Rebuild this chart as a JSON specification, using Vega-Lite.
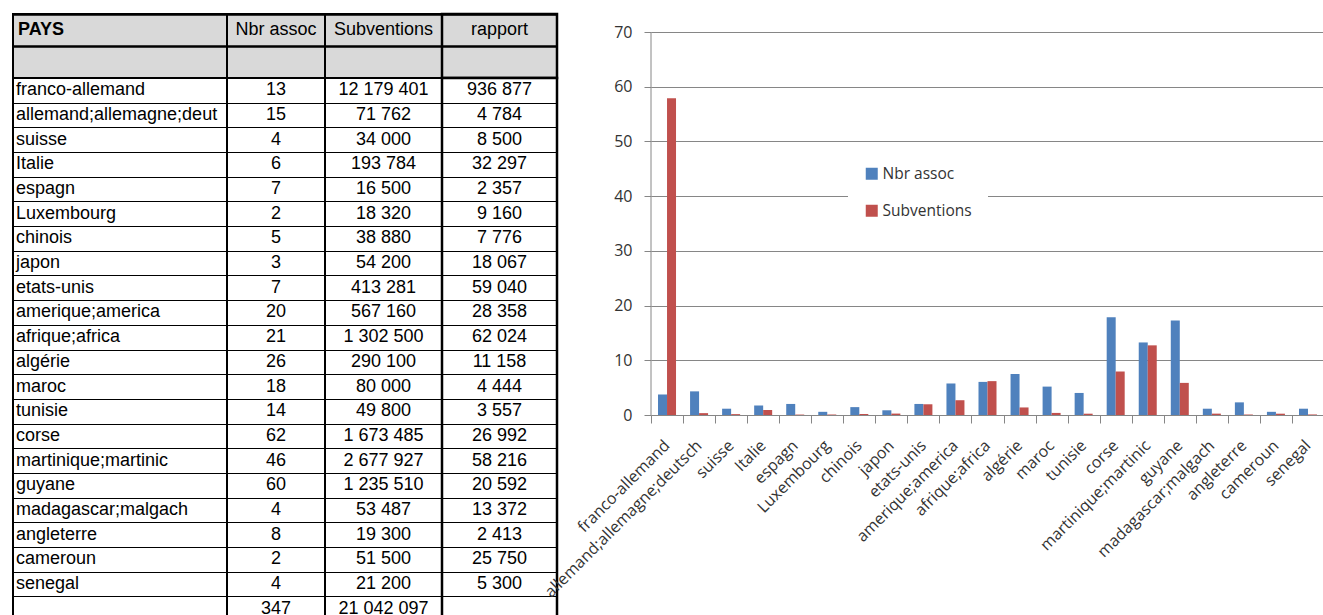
{
  "$schema": "https://vega.github.io/schema/vega-lite/v6.json",
  "padding": {"left": 12, "top": 12, "right": 0, "bottom": 0},
  "background": "white",
  "config": {
    "view": {"stroke": null},
    "font": "Open Sans",
    "locale": {"number": {"decimal": ",", "thousands": " ", "grouping": [3], "currency": ["", " €"]}}
  },
  "datasets": {
    "table": [
      {"row": 1, "pays": "franco-allemand", "nbr": 13, "sub": 12179401, "rapport": 936877},
      {"row": 2, "pays": "allemand;allemagne;deutsch", "nbr": 15, "sub": 71762, "rapport": 4784},
      {"row": 3, "pays": "suisse", "nbr": 4, "sub": 34000, "rapport": 8500},
      {"row": 4, "pays": "Italie", "nbr": 6, "sub": 193784, "rapport": 32297},
      {"row": 5, "pays": "espagn", "nbr": 7, "sub": 16500, "rapport": 2357},
      {"row": 6, "pays": "Luxembourg", "nbr": 2, "sub": 18320, "rapport": 9160},
      {"row": 7, "pays": "chinois", "nbr": 5, "sub": 38880, "rapport": 7776},
      {"row": 8, "pays": "japon", "nbr": 3, "sub": 54200, "rapport": 18067},
      {"row": 9, "pays": "etats-unis", "nbr": 7, "sub": 413281, "rapport": 59040},
      {"row": 10, "pays": "amerique;america", "nbr": 20, "sub": 567160, "rapport": 28358},
      {"row": 11, "pays": "afrique;africa", "nbr": 21, "sub": 1302500, "rapport": 62024},
      {"row": 12, "pays": "algérie", "nbr": 26, "sub": 290100, "rapport": 11158},
      {"row": 13, "pays": "maroc", "nbr": 18, "sub": 80000, "rapport": 4444},
      {"row": 14, "pays": "tunisie", "nbr": 14, "sub": 49800, "rapport": 3557},
      {"row": 15, "pays": "corse", "nbr": 62, "sub": 1673485, "rapport": 26992},
      {"row": 16, "pays": "martinique;martinic", "nbr": 46, "sub": 2677927, "rapport": 58216},
      {"row": 17, "pays": "guyane", "nbr": 60, "sub": 1235510, "rapport": 20592},
      {"row": 18, "pays": "madagascar;malgach", "nbr": 4, "sub": 53487, "rapport": 13372},
      {"row": 19, "pays": "angleterre", "nbr": 8, "sub": 19300, "rapport": 2413},
      {"row": 20, "pays": "cameroun", "nbr": 2, "sub": 51500, "rapport": 25750},
      {"row": 21, "pays": "senegal", "nbr": 4, "sub": 21200, "rapport": 5300},
      {"row": 22, "pays": "", "nbr": 347, "sub": 21042097, "rapport": null}
    ],
    "header": [
      {"hr": 1, "pays": "PAYS", "nbr": "Nbr assoc", "sub": "Subventions", "rapport": "rapport"}
    ],
    "pct": [
      {"pays": "franco-allemand", "Nbr assoc": 3.75, "Subventions": 57.88},
      {"pays": "allemand;allemagne;deutsch", "Nbr assoc": 4.32, "Subventions": 0.34},
      {"pays": "suisse", "Nbr assoc": 1.15, "Subventions": 0.16},
      {"pays": "Italie", "Nbr assoc": 1.73, "Subventions": 0.92},
      {"pays": "espagn", "Nbr assoc": 2.02, "Subventions": 0.08},
      {"pays": "Luxembourg", "Nbr assoc": 0.58, "Subventions": 0.09},
      {"pays": "chinois", "Nbr assoc": 1.44, "Subventions": 0.18},
      {"pays": "japon", "Nbr assoc": 0.86, "Subventions": 0.26},
      {"pays": "etats-unis", "Nbr assoc": 2.02, "Subventions": 1.96},
      {"pays": "amerique;america", "Nbr assoc": 5.76, "Subventions": 2.70},
      {"pays": "afrique;africa", "Nbr assoc": 6.05, "Subventions": 6.19},
      {"pays": "algérie", "Nbr assoc": 7.49, "Subventions": 1.38},
      {"pays": "maroc", "Nbr assoc": 5.19, "Subventions": 0.38},
      {"pays": "tunisie", "Nbr assoc": 4.03, "Subventions": 0.24},
      {"pays": "corse", "Nbr assoc": 17.87, "Subventions": 7.95},
      {"pays": "martinique;martinic", "Nbr assoc": 13.26, "Subventions": 12.73},
      {"pays": "guyane", "Nbr assoc": 17.29, "Subventions": 5.87},
      {"pays": "madagascar;malgach", "Nbr assoc": 1.15, "Subventions": 0.25},
      {"pays": "angleterre", "Nbr assoc": 2.31, "Subventions": 0.09},
      {"pays": "cameroun", "Nbr assoc": 0.58, "Subventions": 0.24},
      {"pays": "senegal", "Nbr assoc": 1.15, "Subventions": 0.10}
    ]
  },
  "spacing": -18,
  "resolve": {"legend": {"color": "independent"}},
  "hconcat": [
    {
      "columns": 4,
      "spacing": 0,
      "bounds": "flush",
      "concat": [
        {
          "width": 214, "height": 64,
          "view": {"fill": "#D9D9D9", "stroke": "black", "strokeWidth": 2},
          "data": {"name": "header"},
          "mark": {"type": "text", "font": "Liberation Sans", "fontSize": 18, "fontWeight": "bold", "align": "left", "dx": 5, "color": "black"},
          "encoding": {
            "y": {"field": "hr", "type": "ordinal", "scale": {"domain": [1, 2], "paddingInner": 0, "paddingOuter": 0}, "axis": {"grid": true, "tickBand": "extent", "gridColor": "black", "gridWidth": 2.5, "labels": false, "ticks": false, "domain": false, "title": null}},
            "x": {"datum": "c", "type": "nominal", "bandPosition": 0, "scale": {"type": "band", "paddingInner": 0, "paddingOuter": 0}, "axis": null},
            "text": {"field": "pays", "type": "nominal"}
          }
        },
        {
          "width": 98, "height": 64,
          "view": {"fill": "#D9D9D9", "stroke": "black", "strokeWidth": 2},
          "data": {"name": "header"},
          "mark": {"type": "text", "font": "Liberation Sans", "fontSize": 18, "color": "black"},
          "encoding": {
            "y": {"field": "hr", "type": "ordinal", "scale": {"domain": [1, 2], "paddingInner": 0, "paddingOuter": 0}, "axis": {"grid": true, "tickBand": "extent", "gridColor": "black", "gridWidth": 2.5, "labels": false, "ticks": false, "domain": false, "title": null}},
            "text": {"field": "nbr", "type": "nominal"}
          }
        },
        {
          "width": 117, "height": 64,
          "view": {"fill": "#D9D9D9", "stroke": "black", "strokeWidth": 2},
          "data": {"name": "header"},
          "mark": {"type": "text", "font": "Liberation Sans", "fontSize": 18, "color": "black"},
          "encoding": {
            "y": {"field": "hr", "type": "ordinal", "scale": {"domain": [1, 2], "paddingInner": 0, "paddingOuter": 0}, "axis": {"grid": true, "tickBand": "extent", "gridColor": "black", "gridWidth": 2.5, "labels": false, "ticks": false, "domain": false, "title": null}},
            "text": {"field": "sub", "type": "nominal"}
          }
        },
        {
          "width": 115, "height": 64,
          "view": {"fill": "#D9D9D9", "stroke": "black", "strokeWidth": 2.5},
          "data": {"name": "header"},
          "mark": {"type": "text", "font": "Liberation Sans", "fontSize": 18, "color": "black"},
          "encoding": {
            "y": {"field": "hr", "type": "ordinal", "scale": {"domain": [1, 2], "paddingInner": 0, "paddingOuter": 0}, "axis": {"grid": true, "tickBand": "extent", "gridColor": "black", "gridWidth": 2.5, "labels": false, "ticks": false, "domain": false, "title": null}},
            "text": {"field": "rapport", "type": "nominal"}
          }
        },
        {
          "width": 214, "height": 543,
          "view": {"fill": "white", "stroke": "black", "strokeWidth": 2},
          "data": {"name": "table"},
          "mark": {"type": "text", "font": "Liberation Sans", "fontSize": 18, "align": "left", "dx": 3, "limit": 212, "ellipsis": " ", "color": "black"},
          "encoding": {
            "y": {"field": "row", "type": "ordinal", "scale": {"domain": [1,2,3,4,5,6,7,8,9,10,11,12,13,14,15,16,17,18,19,20,21,22], "paddingInner": 0, "paddingOuter": 0}, "axis": {"grid": true, "tickBand": "extent", "gridColor": "black", "gridWidth": 1.2, "labels": false, "ticks": false, "domain": false, "title": null}},
            "x": {"datum": "c", "type": "nominal", "bandPosition": 0, "scale": {"type": "band", "paddingInner": 0, "paddingOuter": 0}, "axis": null},
            "text": {"field": "pays", "type": "nominal"}
          }
        },
        {
          "width": 98, "height": 543,
          "view": {"fill": "white", "stroke": "black", "strokeWidth": 2},
          "data": {"name": "table"},
          "mark": {"type": "text", "font": "Liberation Sans", "fontSize": 18, "color": "black"},
          "encoding": {
            "y": {"field": "row", "type": "ordinal", "scale": {"domain": [1,2,3,4,5,6,7,8,9,10,11,12,13,14,15,16,17,18,19,20,21,22], "paddingInner": 0, "paddingOuter": 0}, "axis": {"grid": true, "tickBand": "extent", "gridColor": "black", "gridWidth": 1.2, "labels": false, "ticks": false, "domain": false, "title": null}},
            "text": {"field": "nbr", "type": "quantitative", "format": ",d"}
          }
        },
        {
          "width": 117, "height": 543,
          "view": {"fill": "white", "stroke": "black", "strokeWidth": 2},
          "data": {"name": "table"},
          "mark": {"type": "text", "font": "Liberation Sans", "fontSize": 18, "color": "black"},
          "encoding": {
            "y": {"field": "row", "type": "ordinal", "scale": {"domain": [1,2,3,4,5,6,7,8,9,10,11,12,13,14,15,16,17,18,19,20,21,22], "paddingInner": 0, "paddingOuter": 0}, "axis": {"grid": true, "tickBand": "extent", "gridColor": "black", "gridWidth": 1.2, "labels": false, "ticks": false, "domain": false, "title": null}},
            "text": {"field": "sub", "type": "quantitative", "format": ",d"}
          }
        },
        {
          "width": 115, "height": 543,
          "view": {"fill": "white", "stroke": "black", "strokeWidth": 2.5},
          "data": {"name": "table"},
          "transform": [{"filter": "isValid(datum.rapport)"}],
          "mark": {"type": "text", "font": "Liberation Sans", "fontSize": 18, "color": "black"},
          "encoding": {
            "y": {"field": "row", "type": "ordinal", "scale": {"domain": [1,2,3,4,5,6,7,8,9,10,11,12,13,14,15,16,17,18,19,20,21,22], "paddingInner": 0, "paddingOuter": 0}, "axis": {"grid": true, "tickBand": "extent", "gridColor": "black", "gridWidth": 1.2, "labels": false, "ticks": false, "domain": false, "title": null}},
            "text": {"field": "rapport", "type": "quantitative", "format": ",d"}
          }
        }
      ]
    },
    {
      "width": 673, "height": 401,
      "data": {"name": "pct"},
      "layer": [
        {
          "transform": [{"fold": ["Nbr assoc", "Subventions"], "as": ["serie", "valeur"]}],
          "mark": {"type": "bar"},
          "encoding": {
            "x": {
              "field": "pays", "type": "nominal", "sort": null,
              "scale": {"paddingInner": 0, "paddingOuter": 0},
              "axis": {"title": null, "labelAngle": -45, "labelAlign": "right", "labelBaseline": "top", "labelOverlap": false, "labelLimit": 0, "labelOffset": -6, "tickBand": "extent", "tickSize": 8, "tickColor": "#868686", "domainColor": "#868686", "labelFont": "Open Sans", "labelFontSize": 16, "labelColor": "#333333", "labelPadding": 14}
            },
            "xOffset": {"field": "serie", "type": "nominal", "scale": {"paddingInner": 0, "paddingOuter": 0.78}},
            "y": {
              "field": "valeur", "type": "quantitative",
              "scale": {"domain": [0, 73.29], "nice": false},
              "axis": {"title": null, "values": [0, 10, 20, 30, 40, 50, 60, 70], "grid": true, "gridColor": "#868686", "domain": false, "tickColor": "#868686", "tickSize": 7, "labelPadding": 12, "labelFont": "Open Sans", "labelFontSize": 16, "labelColor": "#333333"}
            },
            "color": {
              "field": "serie", "type": "nominal",
              "scale": {"domain": ["Nbr assoc", "Subventions"], "range": ["#4F81BD", "#C0504D"]},
              "legend": {"orient": "none", "legendX": 197, "legendY": 136, "title": null, "symbolType": "square", "symbolSize": 144, "symbolStrokeWidth": 0, "labelFont": "Open Sans", "labelFontSize": 15.5, "labelColor": "#333333", "rowPadding": 20, "padding": 16, "fillColor": "white", "labelOffset": 3, "direction": "vertical"}
            }
          }
        },
        {
          "data": {"values": [{}]},
          "mark": {"type": "rule", "color": "#868686", "strokeWidth": 1},
          "encoding": {
            "x": {"datum": "franco-allemand", "type": "nominal", "bandPosition": 0},
            "y": {"datum": 0, "type": "quantitative"},
            "y2": {"datum": 70}
          }
        }
      ]
    }
  ]
}
